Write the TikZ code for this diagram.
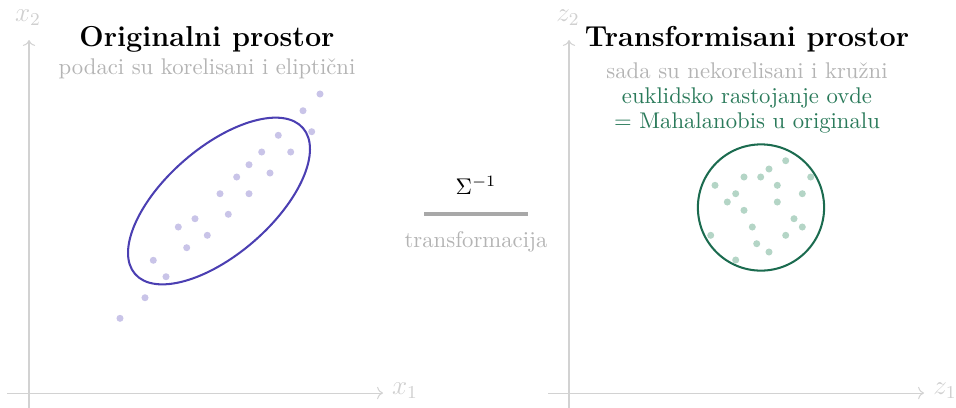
\documentclass[tikz,border=0pt]{standalone}
\usetikzlibrary{arrows.meta}
\definecolor{axisgray}{HTML}{D2D2D2}
\definecolor{lblgray}{HTML}{D0D0D0}
\definecolor{subgray}{HTML}{B4B4B4}
\definecolor{ellcol}{HTML}{4B3FB2}
\definecolor{dotpurple}{HTML}{C9C4E8}
\definecolor{circgreen}{HTML}{1B6B4F}
\definecolor{txtgreen}{HTML}{2A7A5A}
\definecolor{dotgreen}{HTML}{B4D5C6}
\definecolor{midgray}{HTML}{A8A8A8}
\begin{document}
\begin{tikzpicture}[x=0.4405pt,y=-0.4405pt,
  axis/.style={draw=axisgray,line width=0.45pt,->},
  axlbl/.style={text=lblgray,inner sep=0pt,font=\large},
  titletxt/.style={font=\fontsize{12.7}{15}\selectfont\bfseries,inner sep=0pt},
  subtxt/.style={text=subgray,inner sep=0pt},
  greentxt/.style={text=txtgreen,inner sep=0pt},
  pdot/.style={fill=dotpurple},
  gdot/.style={fill=dotgreen}]
\useasboundingbox (0,0) rectangle (956,407);
% left axes
\coordinate (lxs) at (7,393);
\coordinate (lxe) at (383,393);
\coordinate (lys) at (29,410);
\coordinate (lye) at (29,40);
\draw[axis] (lxs) -- (lxe);
\draw[axis] (lys) -- (lye);
\node[axlbl] (x1) at (405,391) {$x_1$};
\node[axlbl] (x2) at (28,18) {$x_2$};
% right axes
\coordinate (rxs) at (548,393);
\coordinate (rxe) at (924,393);
\coordinate (rys) at (569,410);
\coordinate (rye) at (569,40);
\draw[axis] (rxs) -- (rxe);
\draw[axis] (rys) -- (rye);
\node[axlbl] (z1) at (945,391) {$z_1$};
\node[axlbl] (z2) at (568,18) {$z_2$};
% titles
\node[titletxt] (t1) at (207,39) {Originalni prostor};
\node[subtxt] (s1) at (207,69) {podaci su korelisani i eliptični};
\node[titletxt] (t2) at (747,39) {Transformisani prostor};
\node[subtxt] (s2) at (747,71) {sada su nekorelisani i kružni};
\node[greentxt] (g1) at (747,98) {euklidsko rastojanje ovde};
\node[greentxt] (g2) at (747,123) {= Mahalanobis u originalu};
% left dots
\foreach \px/\py in {320/94,303/110.7,311.7/131.7,278.3/135.3,261.7/152,290.7/152,249/164.7,270/173,236.7/177,220/193.7,249/193.7,195/218.7,228.3/214.3,178.3/227,207.3/235.3,186.7/247.7,153.3/260.3,166/276.7,145/297.7,120/318.3}
  \fill[pdot] (\px,\py) circle[radius=1.55pt];
% ellipse
\coordinate (ec) at (219,201);
\draw[ellcol,line width=0.9pt,rotate around={41:(ec)}] (ec) ellipse[x radius=49pt,y radius=23.5pt];
% right dots
\foreach \px/\py in {785.7/160.7,769/169,744/177,760.7/177,810.7/177,715/185.3,777.3/185.3,735.7/193.7,802.3/193.7,727.3/202,777.3/202,744/210.3,794/218.7,752.3/227,802.3/227,710.7/235.3,785.7/235.3,756.7/243.7,769/252,735.7/260}
  \fill[gdot] (\px,\py) circle[radius=1.55pt];
% circle
\coordinate (cc) at (761,207.5);
\draw[circgreen,line width=0.9pt] (cc) circle[radius=27.8pt];
% middle
\node[inner sep=0pt] (sig) at (476,185) {$\Sigma^{-1}$};
\coordinate (ms) at (424,214);
\coordinate (me) at (528,214);
\draw[midgray,line width=1.4pt] (ms) -- (me);
\node[subtxt] (tr) at (476,242) {transformacija};
\end{tikzpicture}
\end{document}
